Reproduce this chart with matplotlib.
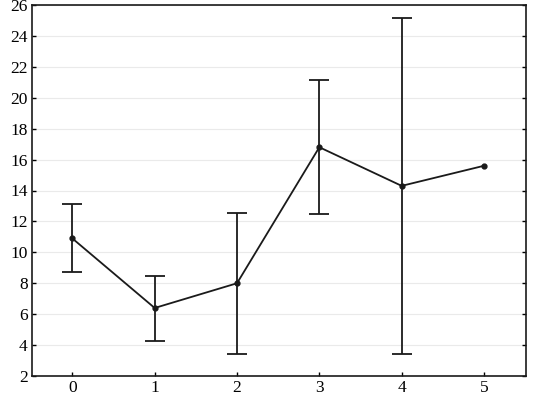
import numpy as np
import matplotlib
matplotlib.use('Agg')
import matplotlib.pyplot as plt

plt.rcParams['font.family'] = ['Liberation Serif', 'DejaVu Serif']

x = [0, 1, 2, 3, 4, 5]
means = [10.9, 6.4, 8.0, 16.8, 14.3, 15.6]
# last point has no error bar
upper = [13.1, 8.45, 12.55, 21.15, 25.15, np.nan]
lower = [8.75, 4.25, 3.4, 12.45, 3.4, np.nan]

m = np.array(means)
has_err = ~np.isnan(np.array(upper))
yerr = np.array([m - np.array(lower), np.array(upper) - m])[:, has_err]

fig = plt.figure(figsize=(5.4, 3.98), dpi=100)
ax = fig.add_axes([32 / 540, 22 / 398, 494 / 540, 371 / 398])

ax.errorbar(np.array(x)[has_err], m[has_err], yerr=yerr, fmt='none', ecolor='#1a1a1a',
            elinewidth=1.3, capsize=7, capthick=1.3)
ax.plot(x, means, color='#1a1a1a', lw=1.3, marker='o', markersize=3.5)

ax.set_xlim(-0.49, 5.51)
ax.set_ylim(2, 26)
ax.set_yticks(range(2, 27, 2))
ax.set_xticks(x)
ax.yaxis.grid(True, color='#eaeaea', lw=0.8)
ax.set_axisbelow(True)
ax.tick_params(direction='in', length=3, labelsize=12.5, right=True, width=1, pad=3)
for s in ax.spines.values():
    s.set_linewidth(1.2)
    s.set_color('#1a1a1a')

fig.savefig('out.png', dpi=100)
